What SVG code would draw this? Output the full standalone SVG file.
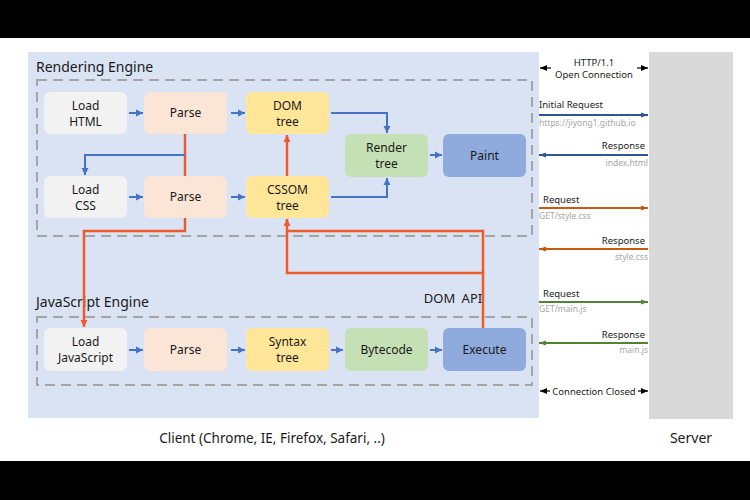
<svg xmlns="http://www.w3.org/2000/svg" width="750" height="500" viewBox="0 0 750 500">
<defs>
<style>
text{font-family:"Noto Sans","Open Sans",sans-serif;fill:#1a1a1a}
.n{font-size:12px;text-anchor:middle}
.t{font-size:14px}
.c{font-size:13.5px}
.s{font-size:9.5px}
.g{font-size:8.5px;fill:#a6a6a6}
.dash{fill:none;stroke:#a5a5a5;stroke-width:2;stroke-dasharray:10 6}
.b{fill:none;stroke:#4472c4;stroke-width:2}
.o{fill:none;stroke:#f05a28;stroke-width:2.5}
.k{fill:none;stroke:#000;stroke-width:1.2}
</style>
<marker id="ab" markerUnits="userSpaceOnUse" markerWidth="8" markerHeight="8" refX="7" refY="4" orient="auto"><path d="M0,0.5 L7,4 L0,7.5 Z" fill="#4472c4"/></marker>
<marker id="ao" markerUnits="userSpaceOnUse" markerWidth="8" markerHeight="8" refX="7" refY="4" orient="auto"><path d="M0,0.5 L7,4 L0,7.5 Z" fill="#f05a28"/></marker>
<marker id="ak" markerUnits="userSpaceOnUse" markerWidth="8" markerHeight="8" refX="7" refY="4" orient="auto"><path d="M0,1 L7,4 L0,7 Z" fill="#000"/></marker>
<marker id="an" markerUnits="userSpaceOnUse" markerWidth="8" markerHeight="8" refX="7" refY="4" orient="auto"><path d="M0,1.5 L7,4 L0,6.5 Z" fill="#2f5597"/></marker>
<marker id="ar" markerUnits="userSpaceOnUse" markerWidth="8" markerHeight="8" refX="7" refY="4" orient="auto"><path d="M0,1.5 L7,4 L0,6.5 Z" fill="#c55a11"/></marker>
<marker id="ag" markerUnits="userSpaceOnUse" markerWidth="8" markerHeight="8" refX="7" refY="4" orient="auto"><path d="M0,1.5 L7,4 L0,6.5 Z" fill="#548235"/></marker>
</defs>
<rect x="0" y="0" width="750" height="500" fill="#fff"/>
<rect x="0" y="0" width="750" height="38" fill="#000"/>
<rect x="0" y="461" width="750" height="39" fill="#000"/>

<g id="client-panel">
<rect x="28" y="52" width="511" height="366" fill="#dae3f3"/>
<text class="c" x="272" y="443" text-anchor="middle">Client (Chrome, IE, Firefox, Safari, ..)</text>
</g>
<g id="server-panel">
<rect x="649" y="52" width="84" height="367" fill="#d9d9d9"/>
<text class="t" x="691" y="443" text-anchor="middle">Server</text>
</g>

<g id="rendering-engine">
<rect class="dash" x="37" y="80" width="495" height="156"/>
<text class="t" x="36" y="72">Rendering Engine</text>
</g>
<g id="js-engine">
<rect class="dash" x="37" y="317" width="495" height="68"/>
<text class="t" x="36" y="307">JavaScript Engine</text>
</g>

<g id="connectors">
<path class="o" d="M185,134 V176"/>
<path class="b" d="M129,113 H143" marker-end="url(#ab)"/>
<path class="b" d="M231,113 H245" marker-end="url(#ab)"/>
<path class="b" d="M331,113 H387 V133" marker-end="url(#ab)"/>
<path class="b" d="M331,197 H387 V178" marker-end="url(#ab)"/>
<path class="b" d="M430,155 H442" marker-end="url(#ab)"/>
<path class="b" d="M185,155 H85 V175" marker-end="url(#ab)"/>
<path class="b" d="M129,197 H143" marker-end="url(#ab)"/>
<path class="b" d="M231,197 H245" marker-end="url(#ab)"/>
<path class="b" d="M129,350 H143" marker-end="url(#ab)"/>
<path class="b" d="M231,350 H245" marker-end="url(#ab)"/>
<path class="b" d="M331,350 H343" marker-end="url(#ab)"/>
<path class="b" d="M430,350 H442" marker-end="url(#ab)"/>
<path class="o" d="M287,176 V135" marker-end="url(#ao)"/>
<path class="o" d="M185,218 V231 H84 V327" marker-end="url(#ao)"/>
<path class="o" d="M483,328 V273 H287 V219" marker-end="url(#ao)"/>
<path class="o" d="M287,231 H483 V273"/>
<text class="n" x="453" y="303" style="font-size:13px;word-spacing:3px">DOM API</text>

<path class="k" d="M551,68 H540" marker-end="url(#ak)"/>
<path class="k" d="M637,68 H648" marker-end="url(#ak)"/>
<path d="M539,115 H648" fill="none" stroke="#2f5597" stroke-width="2" marker-end="url(#an)"/>
<path d="M648,155 H539" fill="none" stroke="#2f5597" stroke-width="2" marker-end="url(#an)"/>
<path d="M539,208 H648" fill="none" stroke="#c55a11" stroke-width="2" marker-end="url(#ar)"/>
<path d="M648,249 H539" fill="none" stroke="#c55a11" stroke-width="2" marker-end="url(#ar)"/>
<path d="M539,302 H648" fill="none" stroke="#548235" stroke-width="2" marker-end="url(#ag)"/>
<path d="M648,343 H539" fill="none" stroke="#548235" stroke-width="2" marker-end="url(#ag)"/>
<path class="k" d="M550,391 H540" marker-end="url(#ak)"/>
<path class="k" d="M638,391 H648" marker-end="url(#ak)"/>
</g>

<g id="http-labels">
<text class="s" x="594" y="66" text-anchor="middle">HTTP/1.1</text>
<text class="s" x="594" y="78" text-anchor="middle">Open Connection</text>
<text class="s" x="539" y="108">Initial Request</text>
<text class="g" x="539" y="126">https://jiyong1.github.io</text>
<text class="s" x="645" y="149" text-anchor="end">Response</text>
<text class="g" x="648" y="166" text-anchor="end">index.html</text>
<text class="s" x="543" y="203">Request</text>
<text class="g" x="539" y="219">GET/style.css</text>
<text class="s" x="645" y="244" text-anchor="end">Response</text>
<text class="g" x="648" y="260" text-anchor="end">style.css</text>
<text class="s" x="543" y="297">Request</text>
<text class="g" x="539" y="312">GET/main.js</text>
<text class="s" x="645" y="338" text-anchor="end">Response</text>
<text class="g" x="648" y="353" text-anchor="end">main.js</text>
<text class="s" x="594" y="395" text-anchor="middle">Connection Closed</text>
</g>

<g id="load-html"><rect x="44" y="92" width="83" height="42" rx="6" fill="#f2f2f2"/><text class="n" x="85.5" y="110">Load</text><text class="n" x="85.5" y="126">HTML</text></g>
<g id="parse-html"><rect x="144" y="92" width="83" height="42" rx="6" fill="#fbe5d6"/><text class="n" x="185.5" y="117">Parse</text></g>
<g id="dom-tree"><rect x="246" y="92" width="83" height="42" rx="6" fill="#ffe699"/><text class="n" x="287.5" y="110">DOM</text><text class="n" x="287.5" y="126">tree</text></g>
<g id="render-tree"><rect x="345" y="134" width="83" height="43" rx="6" fill="#c5e0b4"/><text class="n" x="386.5" y="152">Render</text><text class="n" x="386.5" y="168">tree</text></g>
<g id="paint"><rect x="443" y="134" width="83" height="43" rx="6" fill="#8faadc"/><text class="n" x="484.5" y="160">Paint</text></g>
<g id="load-css"><rect x="44" y="176" width="83" height="42" rx="6" fill="#f2f2f2"/><text class="n" x="85.5" y="194">Load</text><text class="n" x="85.5" y="210">CSS</text></g>
<g id="parse-css"><rect x="144" y="176" width="83" height="42" rx="6" fill="#fbe5d6"/><text class="n" x="185.5" y="201">Parse</text></g>
<g id="cssom-tree"><rect x="246" y="176" width="83" height="42" rx="6" fill="#ffe699"/><text class="n" x="287.5" y="194">CSSOM</text><text class="n" x="287.5" y="210">tree</text></g>
<g id="load-js"><rect x="44" y="328" width="83" height="43" rx="6" fill="#f2f2f2"/><text class="n" x="85.5" y="346">Load</text><text class="n" x="85.5" y="362">JavaScript</text></g>
<g id="parse-js"><rect x="144" y="328" width="83" height="43" rx="6" fill="#fbe5d6"/><text class="n" x="185.5" y="354">Parse</text></g>
<g id="syntax-tree"><rect x="246" y="328" width="83" height="43" rx="6" fill="#ffe699"/><text class="n" x="287.5" y="346">Syntax</text><text class="n" x="287.5" y="362">tree</text></g>
<g id="bytecode"><rect x="345" y="328" width="83" height="43" rx="6" fill="#c5e0b4"/><text class="n" x="386.5" y="354">Bytecode</text></g>
<g id="execute"><rect x="443" y="328" width="83" height="43" rx="6" fill="#8faadc"/><text class="n" x="484.5" y="354">Execute</text></g>
</svg>
